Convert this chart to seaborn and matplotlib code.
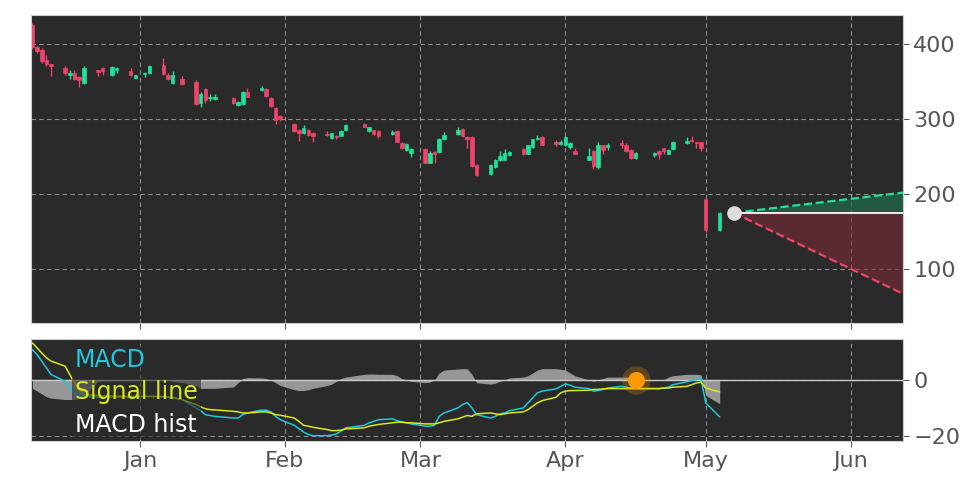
import numpy as np
import pandas as pd
import matplotlib
matplotlib.use("Agg")
import matplotlib.pyplot as plt
import matplotlib.dates as mdates
import seaborn as sns

# day offsets relative to 2024-01-01
day = [-23,-22,-21,-20,-19,-16,-15,-14,-13,-12,-9,-8,-6,-5,-2,-1,1,2,5,6,7,9,12,13,14,15,16,20,21,22,23,26,27,28,29,30,
       33,34,35,36,37,40,41,42,43,44,48,49,50,51,54,55,56,57,58,61,62,63,64,65,68,69,70,71,72,75,76,77,78,79,82,83,84,85,86,
       89,90,91,92,93,96,97,98,99,100,103,104,105,106,110,111,112,113,114,117,118,119,120,121,124]
open_ = [425,396,392,379,373,368,359,362,356,348,365,368,359,365,364,355,360,361,372,359,348,353,350,322,340,328,327,328,319,320,336,339,340,328,315,304,
         294,285,281,285,282,280,275,278,278,285,294,284,285,284,280,284,268,259,255,260,242,256,256,273,280,287,276,276,239,227,236,245,246,252,260,254,263,273,276,
         269,267,265,263,257,246,258,236,265,263,268,265,259,248,252,258,261,254,260,268,272,269,269,194,152]
close = [396,391,377,373,371,361,362,354,352,368,363,364,370,368,359,359,362,371,360,354,359,347,320,334,325,329,330,321,323,336,330,341,331,318,299,300,
         284,282,288,279,278,279,281,276,284,292,290,289,280,277,283,270,261,267,260,242,255,254,274,279,286,277,274,237,225,239,246,251,255,256,253,265,273,275,266,
         267,269,276,268,254,251,237,265,259,266,266,258,248,255,255,253,258,259,270,271,271,268,261,152,175]
high = [428,398,395,385,373,371,365,365,357,371,366,369,371,369,368,359,363,372,382,361,364,357,352,336,342,333,334,330,324,337,341,344,341,329,316,306,
        295,287,292,287,283,284,282,279,285,293,295,290,286,285,285,285,269,268,261,262,257,257,275,283,290,288,277,277,240,240,247,257,260,257,261,266,274,279,277,
        272,272,278,269,262,262,259,270,266,268,272,268,260,256,256,259,262,260,271,276,277,270,270,195,176]
low = [394,388,375,371,358,359,353,352,343,347,357,359,358,362,358,355,356,360,359,352,347,346,319,316,322,324,326,320,318,319,329,337,330,316,294,298,
       283,271,280,277,269,277,274,273,277,284,289,283,279,275,279,269,260,258,250,241,241,241,255,272,279,276,262,236,224,226,235,244,245,251,252,253,262,272,265,
       264,266,264,260,253,245,234,233,254,259,262,256,247,247,250,247,253,253,259,267,270,262,258,150,151]
macd = [10.8,9,6.7,4.3,1.9,-0.5,-2.9,-4.6,-5.8,-5.8,-6.2,-6.2,-6.2,-6.2,-6.2,-6.1,-5.8,-5.8,-6.2,-6.2,-6.5,-7,-10,-11,-12.4,-12.7,-13,-13.6,-13.6,-12.4,-11.8,-10.8,-10.8,-11.4,-13,-14.2,
        -16.2,-17.4,-18.6,-19.5,-19.9,-19.9,-19.7,-19.3,-18.3,-17.1,-16.2,-15.3,-14.8,-14.2,-13.9,-14.5,-15,-15.3,-15.7,-16.5,-16.5,-16.2,-13,-11.8,-10,-8.8,-8.1,-10,-12.4,-13.6,-13,-12.1,-11.8,-11,-10,-8.2,-6.4,-4.6,-4,
        -3.2,-2.3,-1.4,-1.9,-2.6,-3.1,-4,-3.8,-3.4,-2.9,-2.3,-2.6,-2.9,-3.1,-3.1,-3.1,-2.9,-2.6,-1.7,-0.7,-0.2,0.1,0.5,-8.2,-13.2]
signal = [13.2,11.4,9.6,7.9,6.7,4.9,1.9,-1,-3.4,-5.2,-5.6,-5.7,-5.8,-5.8,-5.9,-5.9,-5.9,-5.9,-5.9,-6.1,-6.2,-7,-8.8,-9.6,-10.3,-10.6,-10.7,-11.2,-11.4,-11.8,-11.8,-11.4,-11.4,-11.8,-12.4,-12.6,
          -13.6,-14.8,-16.2,-16.5,-16.9,-17.7,-18.1,-18.1,-17.9,-17.5,-17.1,-16.5,-16.2,-15.9,-15.3,-15.1,-15.1,-15.3,-15.3,-15.7,-15.7,-15.7,-15.3,-14.8,-13.9,-13.3,-12.7,-13,-12.1,-11.8,-12.1,-12.4,-12.1,-11.8,-11.4,-10.6,-9.4,-8.2,-7.4,
          -6.2,-4.6,-4,-3.8,-3.8,-3.7,-3.4,-3.4,-3.2,-3.1,-3.1,-3.1,-3.1,-3.1,-3.1,-3.1,-2.9,-2.9,-2.6,-2.3,-1.7,-1.1,-0.8,-2.9,-4.3]
hist = [-3,-4,-5,-6,-6.5,-7,-7,-7,-6.5,-6,-0.5,-0.4,-0.3,-0.3,-0.2,0,0.2,0.2,-0.2,-0.2,-0.5,-1,-2,-3,-3,-3,-3,-2.5,-1,0.5,0.8,0.7,0.5,0,-1,-2,
        -3.5,-3.8,-3.8,-3.5,-3,-2,-1.5,-0.5,0.5,1,2,2.1,2.1,2,2,1.5,0.5,0,-0.5,-1,-0.8,0,2.5,3.5,3.9,4,4,2,-1,-1.5,-1.2,-0.5,0,0.7,1,1.5,2.5,3.5,4,
        4,3.8,3.5,2.5,1.5,0,-0.5,0,0.5,1,1,1,0.8,0.5,-0.2,-0.2,0,1,1.5,2,2,2,1.8,-5.5,-8.5]

proj_start_day = 127
proj_level = 175
proj_up_end = 202
proj_down_end = 67
marker_day = 106

base = pd.Timestamp("2024-01-01")
dates = base + pd.to_timedelta(day, unit="D")
df = pd.DataFrame({"date": dates, "open": open_, "close": close, "high": high, "low": low,
                   "macd": macd, "signal": signal, "hist": hist})

sns.set_theme(style="dark")
BG = "#2a2a2a"
GREEN = "#20e39a"
RED = "#f0436a"
fig = plt.figure(figsize=(9.72, 4.86), dpi=100, facecolor="white")
ax = fig.add_axes([31/972, 1-323/486, 872/972, 308/486])
ax2 = fig.add_axes([31/972, 1-441/486, 872/972, 102/486], sharex=ax)

for a in (ax, ax2):
    a.set_facecolor(BG)
    a.grid(True, color="#aaaaaa", linestyle=(0, (4, 3)), linewidth=0.8, alpha=0.8)
    for s in a.spines.values():
        s.set_color("#cccccc")
        s.set_linewidth(0.8)
    a.yaxis.tick_right()
    a.tick_params(axis="y", labelsize=16, labelcolor="#555555", colors="#555555", length=4, width=0.8, right=True)
    a.tick_params(axis="x", labelsize=16, labelcolor="#555555", colors="#555555", length=4, width=0.8, bottom=True)

up = df["close"] >= df["open"]
cols = np.where(up, GREEN, RED)
ax.vlines(df["date"], df["low"], df["high"], colors=cols, linewidth=1)
ax.bar(df["date"], (df["close"] - df["open"]).abs().clip(lower=0.8),
       bottom=np.minimum(df["open"], df["close"]), width=0.75, color=cols, edgecolor=cols, linewidth=0.5)

x0 = base + pd.Timedelta(days=proj_start_day)
xr = base + pd.Timedelta(days=163.2)
ax.fill_between([x0, xr], [proj_level, proj_level], [proj_level, proj_up_end], color="#1e6a4a", alpha=0.75, linewidth=0)
ax.fill_between([x0, xr], [proj_level, proj_level], [proj_level, proj_down_end], color="#7a2a36", alpha=0.6, linewidth=0)
ax.plot([x0, xr], [proj_level, proj_up_end], color=GREEN, linestyle="--", linewidth=1.6)
ax.plot([x0, xr], [proj_level, proj_down_end], color=RED, linestyle="--", linewidth=1.6)
ax.plot([x0, xr], [proj_level, proj_level], color="#eeeeee", linewidth=1.4)
ax.scatter([x0], [proj_level], s=90, color="#dddddd", zorder=5)

ax.set_ylim(28, 439)
ax.set_yticks([100, 200, 300, 400])
ax.set_xlim(base - pd.Timedelta(days=23.3), xr)
plt.setp(ax.get_xticklabels(), visible=False)
ax.set_ylabel("")

ax2.fill_between(df["date"], 0, df["hist"], color="#aaaaaa", alpha=0.85, linewidth=0, label="MACD hist")
ax2.axhline(0, color="#cccccc", linewidth=1)
sns.lineplot(data=df, x="date", y="macd", ax=ax2, color="#1fc8dc", linewidth=1.1, label="MACD")
sns.lineplot(data=df, x="date", y="signal", ax=ax2, color="#d8e81a", linewidth=1.1, label="Signal line")
mx = base + pd.Timedelta(days=marker_day)
ax2.scatter([mx], [0], s=420, color="#ff9900", alpha=0.25, zorder=6, linewidths=0)
ax2.scatter([mx], [0], s=150, color="#ff9900", zorder=7, linewidths=0)
ax2.set_ylim(-21.8, 14.6)
ax2.set_yticks([-20, 0])
ax2.set_xlabel("")
ax2.set_ylabel("")
ax2.xaxis.set_major_locator(mdates.MonthLocator())
ax2.xaxis.set_major_formatter(mdates.DateFormatter("%b"))

colmap = {"MACD": "#1fc8dc", "Signal line": "#d8e81a", "MACD hist": "white"}
h, l = ax2.get_legend_handles_labels()
order = [l.index("MACD"), l.index("Signal line"), l.index("MACD hist")]
leg = ax2.legend([h[i] for i in order], [l[i] for i in order], loc="upper left", fontsize=17, handlelength=0,
                 handletextpad=0, borderpad=0.15, labelspacing=0.35, frameon=True, facecolor=BG,
                 edgecolor="none", framealpha=0.6, bbox_to_anchor=(0.033, 1.06))
for hh in leg.legend_handles:
    hh.set_visible(False)
for t in leg.get_texts():
    t.set_color(colmap[t.get_text()])

fig.savefig("out.png", dpi=100, facecolor="white")
